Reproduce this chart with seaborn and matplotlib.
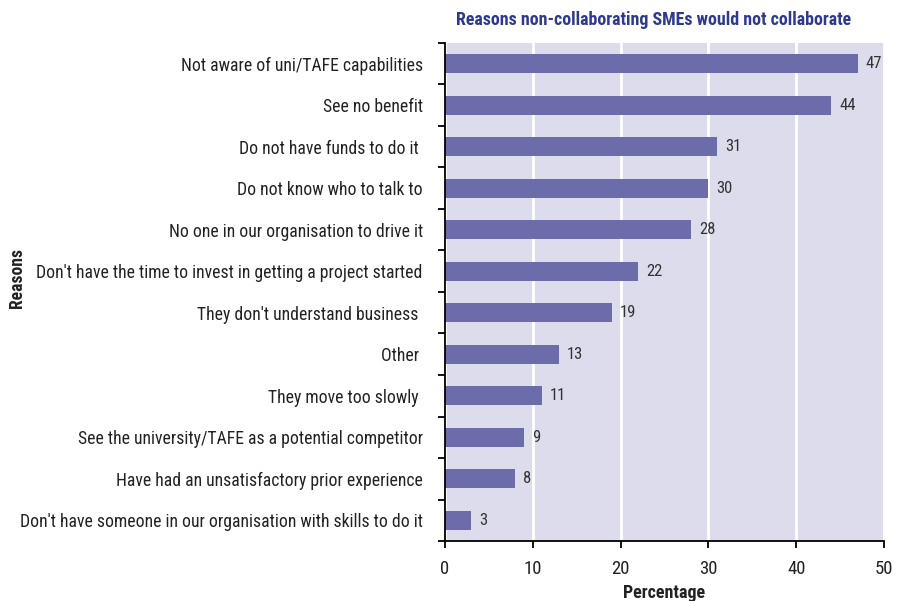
import matplotlib
matplotlib.use("Agg")
import matplotlib.pyplot as plt
import seaborn as sns
import pandas as pd
import numpy as np
from matplotlib.ticker import FixedLocator

reasons = [
    "Not aware of uni/TAFE capabilities",
    "See no benefit",
    "Do not have funds to do it ",
    "Do not know who to talk to",
    "No one in our organisation to drive it",
    "Don't have the time to invest in getting a project started",
    "They don't understand business ",
    "Other ",
    "They move too slowly ",
    "See the university/TAFE as a potential competitor",
    "Have had an unsatisfactory prior experience",
    "Don't have someone in our organisation with skills to do it",
]
values = [47, 44, 31, 30, 28, 22, 19, 13, 11, 9, 8, 3]
x_ticks = [0, 10, 20, 30, 40, 50]

df = pd.DataFrame({"Reasons": reasons, "Percentage": values})

sns.set_theme(style="white")
plt.rcParams["font.family"] = ["Roboto Condensed", "Archivo Narrow", "IBM Plex Sans Condensed", "DejaVu Sans"]

fig = plt.figure(figsize=(9.04, 6.01), dpi=100)
ax = fig.add_axes([0.4923, 0.0998, 0.4856, 0.8287])
ax.set_facecolor("#dcdcec")

sns.barplot(data=df, y="Reasons", x="Percentage", orient="h", color="#6d6cab",
            saturation=1, width=0.45, linewidth=0, ax=ax)

for p, v in zip(ax.patches, values):
    ax.text(p.get_width() + 0.9, p.get_y() + p.get_height() / 2, f"{v}",
            va="center", ha="left", fontsize=12, color="#333333")

ax.set_xlim(0, 50)
ax.set_xticks(x_ticks)
ax.set_xticklabels([str(t) for t in x_ticks], fontsize=13.5, color="#222222")
ax.set_ylim(len(reasons) - 0.5, -0.5)
ax.xaxis.grid(True, color="white", linewidth=2)
ax.set_axisbelow(True)

ax.tick_params(axis="y", which="major", length=0, labelsize=12.7, pad=16, labelcolor="#222222")
ax.yaxis.set_minor_locator(FixedLocator(np.arange(-0.5, len(reasons), 1)))
ax.tick_params(axis="y", which="minor", length=5, width=1.3, color="black", direction="out", left=True)
ax.tick_params(axis="x", which="major", length=5, width=1.3, color="black", direction="out", bottom=True, pad=9)

for s in ["top", "right"]:
    ax.spines[s].set_visible(False)
for s in ["left", "bottom"]:
    ax.spines[s].set_color("black")
    ax.spines[s].set_linewidth(1.3)

ax.set_xlabel("Percentage", fontsize=13, fontweight="bold", labelpad=4, color="#222222")
ax.set_ylabel("")
fig.text(0.019, 0.537, "Reasons", rotation=90, fontsize=12.7, fontweight="bold",
         va="center", ha="center", color="#222222")

fig.text(0.7235, 0.967, "Reasons non-collaborating SMEs would not collaborate",
         fontsize=12.9, fontweight="bold", color="#2e3a8c", ha="center", va="center")

fig.savefig("out.png", dpi=100)
